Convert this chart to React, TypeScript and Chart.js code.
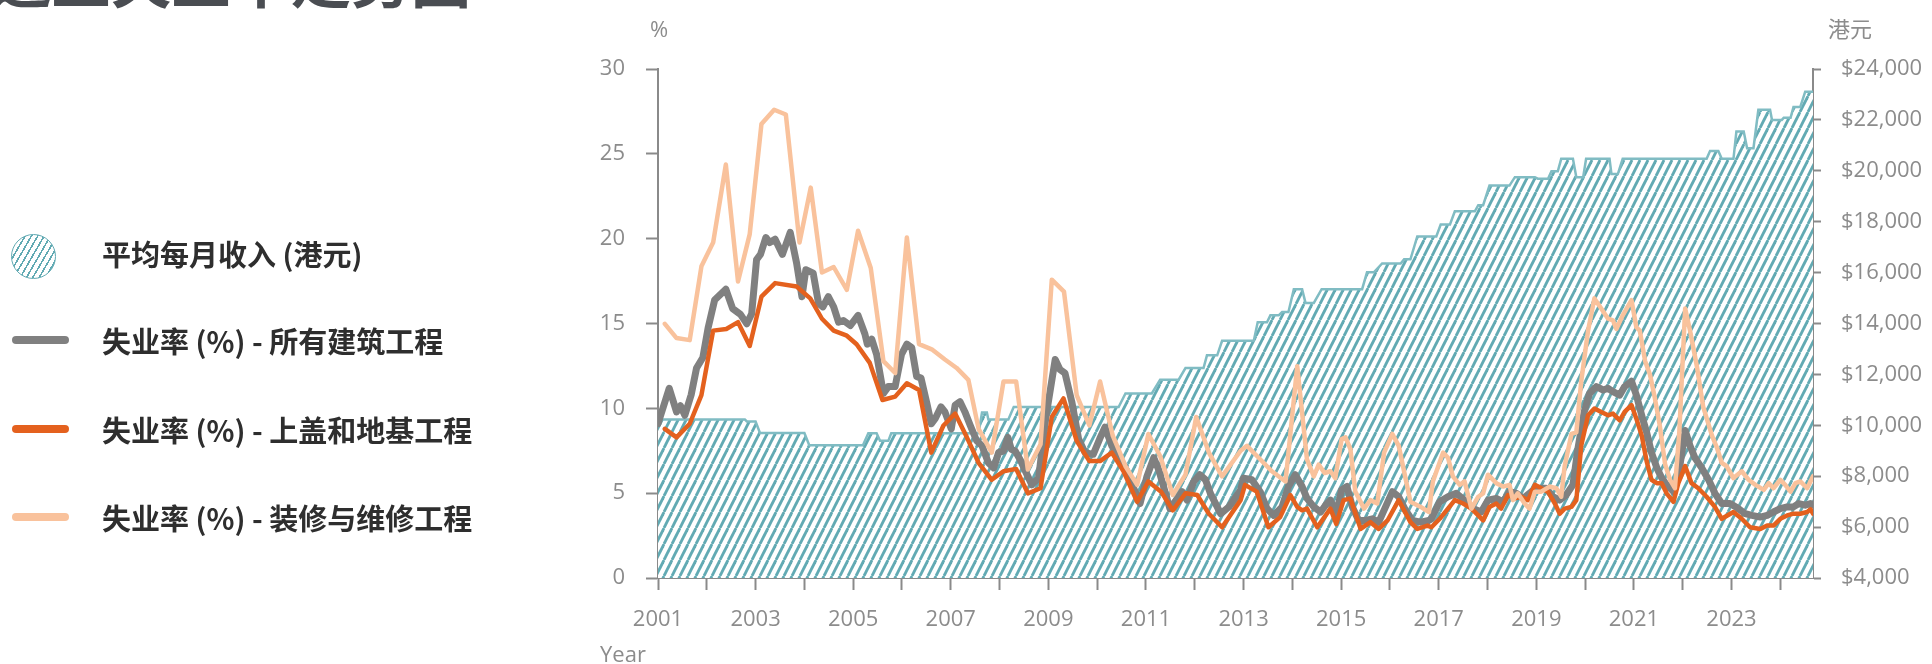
import React, { useEffect, useRef } from "react";
import { Chart, registerables } from "chart.js";

Chart.register(...registerables);

// ---------- data ----------
const yearTicks: number[] = [2001, 2002, 2003, 2004, 2005, 2006, 2007, 2008, 2009, 2010, 2011, 2012, 2013, 2014, 2015, 2016, 2017, 2018, 2019, 2020, 2021, 2022, 2023, 2024];
const labeledYears: number[] = [2001, 2003, 2005, 2007, 2009, 2011, 2013, 2015, 2017, 2019, 2021, 2023];
const rateTicks: number[] = [0, 5, 10, 15, 20, 25, 30];
const incomeTicks: number[] = [4000, 6000, 8000, 10000, 12000, 14000, 16000, 18000, 20000, 22000, 24000];

// [year, HK$] average monthly income
const incomePts: [number, number][] = [
  [2001.0, 10230], [2002.78, 10230], [2002.82, 10150], [2003.0, 10150], [2003.09, 9700], [2004.0, 9700],
  [2004.1, 9220], [2005.2, 9220], [2005.31, 9690], [2005.48, 9690], [2005.55, 9390], [2005.72, 9390],
  [2005.78, 9690], [2007.57, 9690], [2007.64, 10500], [2007.74, 10500], [2007.77, 10230], [2008.18, 10230],
  [2008.29, 10720], [2010.44, 10720], [2010.58, 11250], [2011.12, 11250], [2011.29, 11790], [2011.67, 11790],
  [2011.81, 12250], [2012.18, 12250], [2012.25, 12750], [2012.46, 12750], [2012.56, 13320], [2013.21, 13320],
  [2013.29, 14050], [2013.48, 14050], [2013.55, 14320], [2013.72, 14320], [2013.79, 14450], [2013.92, 14450],
  [2014.03, 15350], [2014.2, 15350], [2014.27, 14810], [2014.44, 14810], [2014.6, 15350], [2015.43, 15350],
  [2015.53, 16010], [2015.67, 16010], [2015.84, 16360], [2016.22, 16360], [2016.29, 16520], [2016.42, 16520],
  [2016.56, 17420], [2016.95, 17420], [2017.04, 17890], [2017.23, 17890], [2017.33, 18410], [2017.74, 18410],
  [2017.81, 18650], [2017.91, 18650], [2018.04, 19420], [2018.45, 19420], [2018.56, 19750], [2018.97, 19750],
  [2019.03, 19690], [2019.24, 19690], [2019.31, 19980], [2019.44, 19980], [2019.51, 20470], [2019.75, 20470],
  [2019.82, 19750], [2019.96, 19750], [2020.02, 20470], [2020.5, 20470], [2020.54, 19870], [2020.67, 19870],
  [2020.77, 20470], [2022.49, 20470], [2022.56, 20780], [2022.73, 20780], [2022.8, 20470], [2023.04, 20470],
  [2023.1, 21540], [2023.25, 21540], [2023.32, 20890], [2023.45, 20890], [2023.55, 22400], [2023.79, 22400],
  [2023.83, 22000], [2024.03, 22000], [2024.07, 22080], [2024.21, 22080], [2024.27, 22510], [2024.41, 22510],
  [2024.51, 23110], [2024.67, 23110],
];

// [year, %] unemployment rate - all construction
const allWorksPts: [number, number][] = [
  [2001.0, 9.09], [2001.23, 11.18], [2001.38, 9.79], [2001.46, 10.15], [2001.55, 9.59], [2001.68, 10.8],
  [2001.79, 12.38], [2001.92, 13.0], [2002.03, 14.78], [2002.16, 16.38], [2002.39, 17.02], [2002.53, 15.88],
  [2002.69, 15.54], [2002.82, 14.98], [2002.92, 15.58], [2003.02, 18.77], [2003.1, 19.07], [2003.21, 20.07],
  [2003.29, 19.77], [2003.4, 19.97], [2003.55, 19.07], [2003.71, 20.37], [2003.84, 18.57], [2003.95, 16.58],
  [2004.03, 18.17], [2004.18, 17.97], [2004.29, 16.18], [2004.38, 15.98], [2004.49, 16.58], [2004.6, 15.98],
  [2004.7, 15.08], [2004.8, 15.18], [2004.94, 14.88], [2005.1, 15.48], [2005.24, 14.38], [2005.29, 13.78],
  [2005.38, 14.08], [2005.48, 13.18], [2005.62, 10.88], [2005.72, 11.28], [2005.86, 11.28], [2005.99, 13.18],
  [2006.1, 13.78], [2006.2, 13.58], [2006.3, 11.88], [2006.39, 11.78], [2006.51, 10.29], [2006.6, 9.09],
  [2006.68, 9.39], [2006.8, 10.09], [2006.88, 9.79], [2007.01, 8.79], [2007.09, 10.19], [2007.19, 10.39],
  [2007.29, 9.79], [2007.4, 8.99], [2007.53, 8.09], [2007.64, 7.79], [2007.77, 6.79], [2007.88, 6.49],
  [2007.98, 7.39], [2008.08, 7.49], [2008.17, 8.29], [2008.24, 7.59], [2008.32, 7.49], [2008.42, 6.99],
  [2008.53, 6.29], [2008.66, 5.49], [2008.8, 5.89], [2008.95, 9.5], [2009.14, 12.88], [2009.24, 12.28],
  [2009.34, 12.08], [2009.48, 10.39], [2009.62, 8.19], [2009.75, 7.39], [2009.92, 7.29], [2010.05, 8.19],
  [2010.16, 8.89], [2010.3, 7.79], [2010.44, 7.19], [2010.61, 6.29], [2010.75, 5.29], [2010.88, 4.39],
  [2011.02, 5.99], [2011.16, 7.09], [2011.26, 6.39], [2011.36, 5.39], [2011.49, 4.09], [2011.62, 4.59],
  [2011.74, 5.09], [2011.84, 4.59], [2011.98, 5.69], [2012.1, 6.09], [2012.22, 5.79], [2012.32, 4.99],
  [2012.39, 4.59], [2012.53, 3.79], [2012.7, 4.19], [2012.94, 5.19], [2013.0, 5.89], [2013.17, 5.79],
  [2013.34, 5.09], [2013.48, 4.09], [2013.62, 3.69], [2013.79, 4.19], [2013.92, 5.39], [2014.06, 6.09],
  [2014.2, 5.39], [2014.3, 4.69], [2014.44, 4.19], [2014.58, 3.89], [2014.68, 4.29], [2014.78, 4.59],
  [2014.9, 3.79], [2015.01, 5.19], [2015.12, 5.39], [2015.23, 4.19], [2015.36, 3.39], [2015.5, 3.39],
  [2015.64, 3.49], [2015.77, 3.29], [2015.91, 4.19], [2016.05, 5.09], [2016.18, 4.79], [2016.32, 3.99],
  [2016.46, 3.39], [2016.63, 3.29], [2016.8, 3.39], [2016.85, 3.49], [2017.02, 4.49], [2017.19, 4.79],
  [2017.36, 4.99], [2017.53, 4.59], [2017.7, 4.09], [2017.87, 3.89], [2018.01, 4.59], [2018.18, 4.69],
  [2018.32, 4.49], [2018.45, 5.09], [2018.59, 4.99], [2018.73, 4.69], [2018.9, 5.09], [2019.03, 5.29],
  [2019.2, 5.29], [2019.34, 4.79], [2019.48, 4.59], [2019.61, 4.89], [2019.75, 5.49], [2019.85, 7.59],
  [2019.98, 9.79], [2020.09, 10.88], [2020.23, 11.28], [2020.37, 11.08], [2020.47, 11.18], [2020.57, 10.98],
  [2020.71, 10.78], [2020.81, 11.28], [2020.95, 11.6], [2021.05, 10.78], [2021.16, 9.59], [2021.26, 8.59],
  [2021.36, 7.39], [2021.47, 6.49], [2021.57, 5.89], [2021.67, 5.49], [2021.81, 5.09], [2021.91, 5.99],
  [2022.05, 8.69], [2022.15, 7.79], [2022.25, 7.09], [2022.39, 6.49], [2022.53, 5.79], [2022.66, 4.99],
  [2022.8, 4.39], [2022.97, 4.39], [2023.14, 4.09], [2023.28, 3.79], [2023.42, 3.69], [2023.59, 3.59],
  [2023.73, 3.69], [2023.86, 3.89], [2024.0, 4.09], [2024.14, 4.19], [2024.27, 4.19], [2024.38, 4.39],
  [2024.51, 4.29], [2024.62, 4.39], [2024.67, 4.3],
];

// [year, %] unemployment rate - foundation & superstructure
const foundationPts: [number, number][] = [
  [2001.14, 8.79], [2001.38, 8.29], [2001.65, 9.09], [2001.89, 10.78], [2002.13, 14.58], [2002.4, 14.68],
  [2002.64, 15.08], [2002.88, 13.68], [2003.12, 16.58], [2003.4, 17.38], [2003.84, 17.18], [2004.12, 16.48],
  [2004.36, 15.28], [2004.6, 14.58], [2004.87, 14.28], [2005.07, 13.78], [2005.34, 12.68], [2005.6, 10.49],
  [2005.86, 10.69], [2006.1, 11.48], [2006.35, 11.08], [2006.6, 7.39], [2006.85, 8.99], [2007.09, 9.69],
  [2007.33, 8.29], [2007.57, 6.79], [2007.84, 5.79], [2008.08, 6.29], [2008.34, 6.43], [2008.58, 4.99],
  [2008.84, 5.29], [2009.07, 9.49], [2009.31, 10.59], [2009.58, 8.09], [2009.84, 6.89], [2010.06, 6.89],
  [2010.3, 7.39], [2010.54, 6.29], [2010.82, 4.49], [2011.05, 5.69], [2011.31, 5.09], [2011.55, 3.99],
  [2011.81, 4.99], [2012.05, 4.89], [2012.29, 3.79], [2012.56, 2.99], [2012.94, 4.59], [2013.03, 5.49],
  [2013.27, 5.09], [2013.51, 2.99], [2013.75, 3.59], [2013.96, 4.89], [2014.1, 4.19], [2014.2, 3.99],
  [2014.3, 4.09], [2014.51, 2.99], [2014.78, 4.09], [2014.9, 3.19], [2015.05, 4.59], [2015.19, 4.69],
  [2015.4, 2.89], [2015.6, 3.29], [2015.77, 2.89], [2015.95, 3.39], [2016.18, 4.59], [2016.42, 3.29],
  [2016.56, 2.89], [2016.77, 3.09], [2016.85, 2.99], [2017.02, 3.49], [2017.16, 3.99], [2017.33, 4.59],
  [2017.5, 4.39], [2017.67, 4.09], [2017.81, 3.69], [2017.91, 3.39], [2018.04, 4.19], [2018.18, 4.39],
  [2018.28, 4.09], [2018.42, 4.89], [2018.56, 4.69], [2018.69, 4.79], [2018.83, 4.59], [2018.97, 5.49],
  [2019.1, 5.29], [2019.24, 5.09], [2019.38, 4.39], [2019.48, 3.79], [2019.58, 4.09], [2019.72, 4.19],
  [2019.82, 4.59], [2019.92, 7.79], [2020.06, 9.59], [2020.19, 9.99], [2020.33, 9.79], [2020.47, 9.59],
  [2020.57, 9.69], [2020.71, 9.29], [2020.81, 9.79], [2020.95, 10.19], [2021.05, 9.39], [2021.16, 8.39],
  [2021.26, 6.89], [2021.36, 5.79], [2021.47, 5.59], [2021.57, 5.59], [2021.67, 4.99], [2021.81, 4.49],
  [2021.91, 5.59], [2022.05, 6.59], [2022.18, 5.59], [2022.32, 5.29], [2022.49, 4.79], [2022.66, 4.19],
  [2022.8, 3.49], [2023.04, 3.89], [2023.21, 3.49], [2023.38, 2.99], [2023.59, 2.89], [2023.73, 3.09],
  [2023.86, 3.09], [2024.0, 3.49], [2024.14, 3.69], [2024.27, 3.79], [2024.41, 3.79], [2024.55, 3.89],
  [2024.62, 4.05], [2024.67, 3.8],
];

// [year, %] unemployment rate - decoration & maintenance
const finishingPts: [number, number][] = [
  [2001.14, 14.98], [2001.38, 14.14], [2001.65, 14.02], [2001.89, 18.37], [2002.13, 19.77], [2002.39, 24.37],
  [2002.64, 17.48], [2002.88, 20.27], [2003.12, 26.76], [2003.38, 27.6], [2003.62, 27.32], [2003.9, 19.77],
  [2004.13, 23.01], [2004.36, 18.01], [2004.6, 18.33], [2004.87, 16.98], [2005.1, 20.47], [2005.36, 18.27],
  [2005.62, 12.78], [2005.86, 12.08], [2006.1, 20.07], [2006.35, 13.78], [2006.61, 13.48], [2006.88, 12.88],
  [2007.12, 12.38], [2007.36, 11.68], [2007.57, 8.79], [2007.84, 7.39], [2008.08, 11.58], [2008.34, 11.58],
  [2008.58, 6.39], [2008.84, 7.89], [2009.07, 17.58], [2009.32, 16.88], [2009.58, 10.78], [2009.84, 8.99],
  [2010.06, 11.58], [2010.32, 8.39], [2010.58, 6.59], [2010.82, 5.49], [2011.05, 8.49], [2011.29, 7.19],
  [2011.55, 4.89], [2011.81, 6.09], [2012.03, 9.49], [2012.29, 7.39], [2012.56, 5.99], [2012.94, 7.5],
  [2013.07, 7.79], [2013.31, 7.09], [2013.58, 6.29], [2013.86, 5.69], [2014.1, 12.48], [2014.3, 6.99],
  [2014.44, 5.99], [2014.54, 6.69], [2014.66, 6.19], [2014.78, 6.29], [2014.88, 5.89], [2015.01, 8.19],
  [2015.09, 8.29], [2015.19, 7.59], [2015.29, 5.09], [2015.47, 4.09], [2015.6, 4.59], [2015.74, 4.39],
  [2015.88, 7.39], [2016.05, 8.49], [2016.18, 7.79], [2016.42, 4.49], [2016.63, 4.19], [2016.8, 3.89],
  [2016.88, 5.69], [2017.09, 7.39], [2017.19, 7.09], [2017.29, 5.99], [2017.43, 5.49], [2017.53, 5.69],
  [2017.67, 4.09], [2017.81, 4.79], [2017.91, 4.99], [2018.01, 6.09], [2018.18, 5.59], [2018.32, 5.39],
  [2018.45, 5.49], [2018.52, 4.59], [2018.62, 4.99], [2018.76, 4.39], [2018.86, 4.09], [2018.97, 5.09],
  [2019.1, 5.09], [2019.27, 5.39], [2019.41, 5.29], [2019.51, 4.79], [2019.58, 6.59], [2019.72, 8.49],
  [2019.82, 8.59], [2019.92, 11.58], [2020.06, 14.58], [2020.19, 16.48], [2020.33, 15.88], [2020.47, 15.28],
  [2020.57, 15.18], [2020.64, 14.68], [2020.77, 15.48], [2020.95, 16.38], [2021.05, 14.78], [2021.12, 14.58],
  [2021.23, 12.78], [2021.33, 11.98], [2021.43, 10.59], [2021.53, 8.99], [2021.64, 6.69], [2021.74, 5.79],
  [2021.84, 5.29], [2021.93, 8.59], [2022.05, 15.88], [2022.15, 14.58], [2022.29, 12.48], [2022.42, 10.09],
  [2022.6, 8.39], [2022.7, 7.69], [2022.8, 6.79], [2022.9, 6.59], [2023.04, 5.89], [2023.21, 6.29],
  [2023.35, 5.79], [2023.49, 5.49], [2023.66, 5.19], [2023.76, 5.59], [2023.86, 5.29], [2024.0, 5.79],
  [2024.1, 5.49], [2024.21, 5.09], [2024.31, 5.59], [2024.41, 5.69], [2024.55, 5.29], [2024.67, 5.99],
];

const LABEL_INCOME = "平均每月收入 (港元)";
const LABEL_ALL = "失业率 (%) - 所有建筑工程";
const LABEL_FOUND = "失业率 (%) - 上盖和地基工程";
const LABEL_FINISH = "失业率 (%) - 装修与维修工程";
const TITLE = "建造业失业率走势图";

// ---------- styles ----------
const GRAY = "#808080";
const ORANGE = "#E4611E";
const PEACH = "#F9C29C";
const TEAL = "#62AAB3";
const TEAL_EDGE = "#80BCC3";
const AXIS = "#8a8a8a";
const TICK_TEXT = "#8c8c8c";
const TEXT = "#2e2e2e";
const LATIN = "'Open Sans', 'Noto Sans', sans-serif";
const CJK = "'Noto Sans CJK SC', 'Noto Sans', sans-serif";

const toXY = (p: [number, number][]) => p.map(([x, y]) => ({ x, y }));

function makeHatch(ctx: CanvasRenderingContext2D): CanvasPattern | string {
  const w = 8;
  const h = 16;
  const c = document.createElement("canvas");
  c.width = w;
  c.height = h;
  const g = c.getContext("2d");
  if (!g) return TEAL;
  g.fillStyle = "#ffffff";
  g.fillRect(0, 0, w, h);
  g.strokeStyle = TEAL;
  g.lineWidth = 2.8;
  for (const off of [-w, 0, w]) {
    g.beginPath();
    g.moveTo(off, h);
    g.lineTo(off + w, 0);
    g.stroke();
  }
  return ctx.createPattern(c, "repeat") || TEAL;
}

function ChartCanvas() {
  const ref = useRef<HTMLCanvasElement | null>(null);
  useEffect(() => {
    const canvas = ref.current;
    if (!canvas) return;
    const ctx = canvas.getContext("2d");
    if (!ctx) return;
    const hatch = makeHatch(ctx);
    const tickFont = { family: LATIN, size: 22, weight: "normal" as const };
    const chart = new Chart(ctx, {
      type: "line",
      data: {
        datasets: [
          {
            label: LABEL_FINISH,
            data: toXY(finishingPts),
            yAxisID: "y",
            borderColor: PEACH,
            borderWidth: 4.5,
            pointRadius: 0,
            tension: 0,
            fill: false,
            borderJoinStyle: "round",
            borderCapStyle: "round",
          },
          {
            label: LABEL_FOUND,
            data: toXY(foundationPts),
            yAxisID: "y",
            borderColor: ORANGE,
            borderWidth: 4.5,
            pointRadius: 0,
            tension: 0,
            fill: false,
            borderJoinStyle: "round",
            borderCapStyle: "round",
          },
          {
            label: LABEL_ALL,
            data: toXY(allWorksPts),
            yAxisID: "y",
            borderColor: GRAY,
            borderWidth: 7,
            pointRadius: 0,
            tension: 0,
            fill: false,
            borderJoinStyle: "round",
            borderCapStyle: "round",
          },
          {
            label: LABEL_INCOME,
            data: toXY(incomePts),
            yAxisID: "y1",
            borderColor: TEAL_EDGE,
            borderWidth: 2.5,
            backgroundColor: hatch as any,
            pointRadius: 0,
            tension: 0,
            fill: "start",
          },
        ],
      },
      options: {
        responsive: false,
        animation: false,
        devicePixelRatio: 1,
        layout: { padding: { left: 558, right: 0, top: 69, bottom: 0 } },
        plugins: { legend: { display: false }, tooltip: { enabled: false } },
        scales: {
          x: {
            type: "linear",
            min: 2001,
            max: 2024.67,
            afterBuildTicks: (s: any) => {
              s.ticks = yearTicks.map((v) => ({ value: v }));
            },
            afterFit: (s: any) => {
              s.height = 86;
            },
            grid: { drawOnChartArea: false, drawTicks: true, tickLength: 12, tickWidth: 2, tickColor: AXIS },
            border: { display: true, color: AXIS, width: 2 },
            ticks: {
              autoSkip: false,
              maxRotation: 0,
              minRotation: 0,
              padding: 17,
              color: TICK_TEXT,
              font: tickFont,
              callback: (v: any) => (labeledYears.includes(Number(v)) ? String(v) : ""),
            },
          },
          y: {
            type: "linear",
            position: "left",
            min: 0,
            max: 30,
            afterBuildTicks: (s: any) => {
              s.ticks = rateTicks.map((v) => ({ value: v }));
            },
            afterFit: (s: any) => {
              s.width = 100;
            },
            grid: { drawOnChartArea: false, drawTicks: true, tickLength: 12, tickWidth: 2, tickColor: AXIS },
            border: { display: true, color: AXIS, width: 2 },
            ticks: { padding: 21, color: TICK_TEXT, font: tickFont, callback: (v: any) => String(v) },
          },
          y1: {
            type: "linear",
            position: "right",
            min: 4000,
            max: 24000,
            afterBuildTicks: (s: any) => {
              s.ticks = incomeTicks.map((v) => ({ value: v }));
            },
            afterFit: (s: any) => {
              s.width = 119;
            },
            grid: { drawOnChartArea: false, drawTicks: true, tickLength: 8, tickWidth: 2, tickColor: AXIS },
            border: { display: true, color: AXIS, width: 2 },
            ticks: {
              padding: 20,
              color: TICK_TEXT,
              font: tickFont,
              callback: (v: any) => "$" + Number(v).toLocaleString("en-US"),
            },
          },
        },
      },
    });
    return () => chart.destroy();
  }, []);
  return <canvas ref={ref} width={1932} height={664} style={{ position: "absolute", left: 0, top: 0, width: 1932, height: 664 }} />;
}

function LegendRow({ top, label, icon }: { top: number; label: string; icon: React.ReactNode }) {
  return (
    <div style={{ position: "absolute", left: 0, top: top - 20, height: 40, width: 560 }}>
      {icon}
      <div
        style={{
          position: "absolute",
          left: 102,
          top: 0,
          lineHeight: "40px",
          fontFamily: CJK,
          fontWeight: 700,
          fontSize: 29,
          color: TEXT,
          whiteSpace: "nowrap",
        }}
      >
        {label}
      </div>
    </div>
  );
}

const lineIcon = (color: string) => (
  <div style={{ position: "absolute", left: 12, top: 16, width: 57, height: 8, borderRadius: 4, background: color }} />
);

export default function App() {
  useEffect(() => {
    document.body.style.margin = "0";
    document.body.style.overflow = "hidden";
    document.documentElement.style.overflow = "hidden";
  }, []);
  return (
    <div style={{ position: "absolute", left: 0, top: 0, width: 1932, height: 664, overflow: "hidden", background: "#ffffff" }}>
      <div
        style={{
          position: "absolute",
          left: -69,
          top: -53,
          fontFamily: CJK,
          fontWeight: 700,
          fontSize: 60,
          lineHeight: "60px",
          color: "#4a4d52",
          whiteSpace: "nowrap",
        }}
      >
        {TITLE}
      </div>
      <ChartCanvas />
      <div style={{ position: "absolute", left: 650, top: 14, fontFamily: LATIN, fontSize: 22, lineHeight: "28px", color: TICK_TEXT }}>%</div>
      <div style={{ position: "absolute", left: 1828, top: 13, fontFamily: CJK, fontSize: 22, lineHeight: "28px", color: TICK_TEXT }}>港元</div>
      <div style={{ position: "absolute", left: 600, top: 639, fontFamily: LATIN, fontSize: 22, lineHeight: "28px", color: TICK_TEXT }}>Year</div>
      <LegendRow
        top={253}
        label={LABEL_INCOME}
        icon={
          <div
            style={{
              position: "absolute",
              left: 11,
              top: 1,
              width: 43,
              height: 43,
              borderRadius: "50%",
              border: `1.5px solid ${TEAL}`,
              background: `repeating-linear-gradient(120deg, ${TEAL} 0px, ${TEAL} 1.6px, #ffffff 1.6px, #ffffff 5.5px)`,
            }}
          />
        }
      />
      <LegendRow top={340} label={LABEL_ALL} icon={lineIcon(GRAY)} />
      <LegendRow top={429} label={LABEL_FOUND} icon={lineIcon(ORANGE)} />
      <LegendRow top={517} label={LABEL_FINISH} icon={lineIcon(PEACH)} />
    </div>
  );
}
